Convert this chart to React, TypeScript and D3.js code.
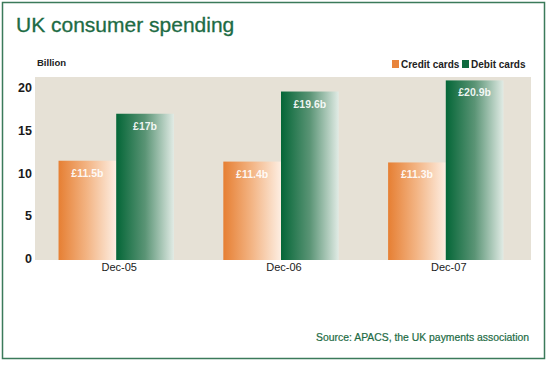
import React from 'react';
import * as d3 from 'd3';

const width = 550;
const height = 366;

const periods = ['Dec-05', 'Dec-06', 'Dec-07'];
const creditCards = [11.5, 11.4, 11.3];
const debitCards = [17, 19.6, 20.9];
const creditLabels = ['£11.5b', '£11.4b', '£11.3b'];
const debitLabels = ['£17b', '£19.6b', '£20.9b'];
const yTicks = [0, 5, 10, 15, 20];
const seriesNames = ['Credit cards', 'Debit cards'];

const plot = { left: 35, right: 531, top: 77, bottom: 259 };
const green = '#1d6b44';

export default function App() {
  const x = d3.scaleBand<string>()
    .domain(periods)
    .range([plot.left - 2, plot.right - 2])
    .paddingInner(0.3)
    .paddingOuter(0.155);
  const inner = d3.scaleBand<string>()
    .domain(seriesNames)
    .range([0, x.bandwidth()]);
  const y = d3.scaleLinear().domain([0, 21.3]).range([plot.bottom, plot.top]);

  const series = [
    { name: seriesNames[0], values: creditCards, labels: creditLabels, fill: 'url(#gOrange)', key: '#e8843c' },
    { name: seriesNames[1], values: debitCards, labels: debitLabels, fill: 'url(#gGreen)', key: '#0e6a3e' },
  ];

  return (
    <svg width={width} height={height} style={{ position: 'absolute', left: 0, top: 0 }}
      fontFamily="Arial, 'Liberation Sans', sans-serif">
      <defs>
        <linearGradient id="gOrange" x1="0" x2="1" y1="0" y2="0">
          <stop offset="0" stopColor="#e67f33" />
          <stop offset="0.5" stopColor="#f3b585" />
          <stop offset="1" stopColor="#fdeee2" />
        </linearGradient>
        <linearGradient id="gGreen" x1="0" x2="1" y1="0" y2="0">
          <stop offset="0" stopColor="#046637" />
          <stop offset="0.5" stopColor="#5a9475" />
          <stop offset="1" stopColor="#e1ebe5" />
        </linearGradient>
      </defs>
      <rect x={0} y={0} width={width} height={height} fill="#fff" />
      <rect x={2.5} y={2.5} width={542} height={356} fill="#fff" stroke="#3b7a5a" strokeWidth={1.5} />

      <text x={16} y={32} fontSize={21} fill={green} stroke={green} strokeWidth={0.3}>UK consumer spending</text>
      <text x={37} y={66} fontSize={9.5} fontWeight="bold" fill="#222">Billion</text>

      <rect x={plot.left} y={plot.top} width={plot.right - plot.left} height={plot.bottom - plot.top + 1} fill="#e6e1d6" />

      {yTicks.map(t => (
        <text key={t} x={32} y={y(t) + 4} textAnchor="end" fontSize={12.5} fontWeight="bold" fill="#1a1a1a">{t}</text>
      ))}

      {periods.map((p, i) => (
        <g key={p}>
          {series.map(s => {
            const bx = (x(p) as number) + (inner(s.name) as number);
            const by = y(s.values[i]);
            return (
              <g key={s.name}>
                <rect x={bx} y={by} width={inner.bandwidth()} height={plot.bottom - by + 1} fill={s.fill} />
                <text x={bx + inner.bandwidth() / 2} y={by + 16} textAnchor="middle" fontSize={10.5}
                  fontWeight="bold" fill="#fff" fillOpacity={0.92}>{s.labels[i]}</text>
              </g>
            );
          })}
          <text x={(x(p) as number) + x.bandwidth() / 2 + 3} y={271} textAnchor="middle" fontSize={11} fill="#1a1a1a">{p}</text>
        </g>
      ))}

      <g fontSize={10} fontWeight="bold" fill="#222">
        <rect x={392} y={60} width={7} height={8} fill={series[0].key} />
        <text x={401} y={68}>{seriesNames[0]}</text>
        <rect x={462} y={60} width={7} height={8} fill={series[1].key} />
        <text x={471} y={68}>{seriesNames[1]}</text>
      </g>

      <text x={529} y={341} textAnchor="end" fontSize={10.4} fill={green} stroke={green} strokeWidth={0.2}>Source: APACS, the UK payments association</text>
    </svg>
  );
}
